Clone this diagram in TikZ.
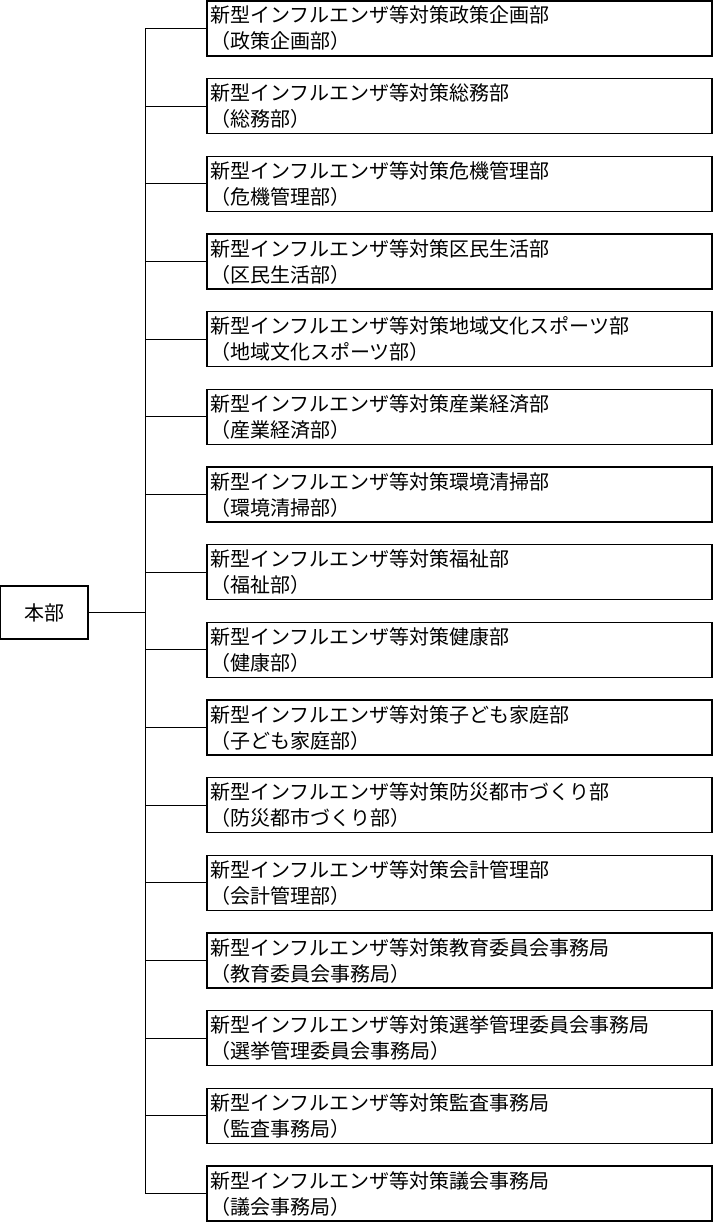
\documentclass[tikz,border=0pt]{standalone}
\usepackage{fontspec}
\setmainfont{Noto Sans CJK JP}
\usepackage{tikz}
\usetikzlibrary{positioning}

\tikzset{
    abteilung/.style={draw, line width=1.2pt, minimum width=505pt, minimum height=55pt,
        text width=499pt, inner xsep=3pt, align=left,
        font=\fontsize{20}{26}\selectfont},
    zentrale/.style={draw, line width=1.2pt, minimum width=88pt, minimum height=53pt,
        font=\fontsize{20}{26}\selectfont},
    linie/.style={line width=1.2pt}
}

\begin{document}
\begin{tikzpicture}[x=1pt,y=1pt]
    \useasboundingbox (0,0) rectangle (713,-1223);
    % Abstand der Kaesten
    \def\d{77.67}
    \node[zentrale] (honbu) at (44,-612.5) {本部};
    \coordinate (knoten) at (145.5,-612.5); % Verzweigungspunkt

    % Kaesten der Abteilungen
    \foreach \name [count=\i] in {政策企画部,総務部,危機管理部,区民生活部,地域文化スポーツ部,
        産業経済部,環境清掃部,福祉部,健康部,子ども家庭部,防災都市づくり部,会計管理部,
        教育委員会事務局,選挙管理委員会事務局,監査事務局,議会事務局} {
        \pgfmathsetmacro\yy{-28.5-\d*(\i-1)}
        \node[abteilung] (abt\i) at (459.5,\yy) {新型インフルエンザ等対策\name\\（\name）};
        \draw[linie] (knoten |- abt\i.west) -- (abt\i.west);
    }

    \draw[linie] (honbu.east) -- (knoten);
    \draw[linie] (knoten |- abt1.west) -- (knoten |- abt16.west);
\end{tikzpicture}
\end{document}
